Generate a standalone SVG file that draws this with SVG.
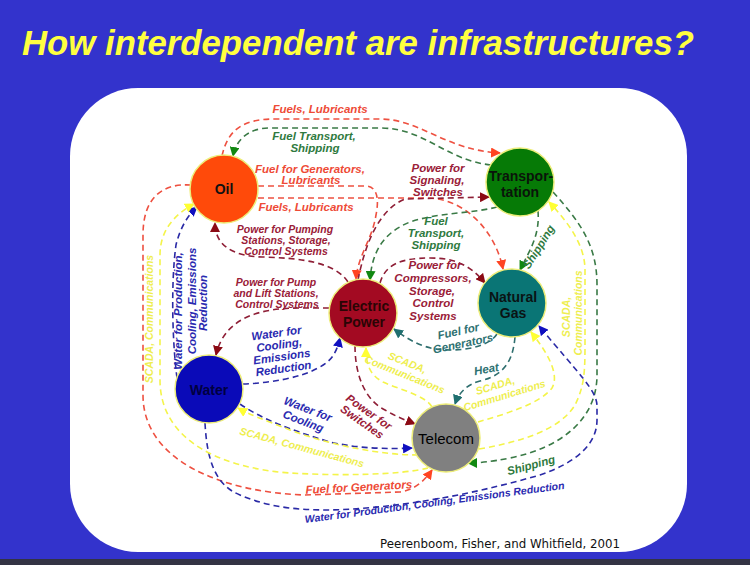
<svg xmlns="http://www.w3.org/2000/svg" width="750" height="565" viewBox="0 0 750 565">
<defs>
<style>
.e{fill:none;stroke-width:1.6;stroke-dasharray:6 4}
.r{stroke:#EE5040}.g{stroke:#3A7A46}.d{stroke:#8E1E36}.t{stroke:#2E6E6E}.b{stroke:#2A2AA6}.y{stroke:#F4F44A}
.l{font-family:"Liberation Sans",Arial,sans-serif;font-weight:bold;font-style:italic;font-size:11.5px;text-anchor:middle}
.lr{fill:#EE4A36}.lg{fill:#2F7A40}.ld{fill:#9A2038}.lt{fill:#2E7272}.lb{fill:#2A2AB0}.ly{fill:#EEEE50}
.s{font-size:10.5px}
.n{stroke:#EDED7A;stroke-width:1.5}
.nl{font-family:"Liberation Sans",Arial,sans-serif;font-weight:bold;font-size:14px;text-anchor:middle}
</style>
<marker id="mR" viewBox="0 0 10 10" refX="9" refY="5" markerWidth="10" markerHeight="10" markerUnits="userSpaceOnUse" orient="auto"><path d="M0,0 L10,5 L0,10 z" fill="#FF4422"/></marker>
<marker id="mG" viewBox="0 0 10 10" refX="9" refY="5" markerWidth="10" markerHeight="10" markerUnits="userSpaceOnUse" orient="auto"><path d="M0,0 L10,5 L0,10 z" fill="#118811"/></marker>
<marker id="mD" viewBox="0 0 10 10" refX="9" refY="5" markerWidth="10" markerHeight="10" markerUnits="userSpaceOnUse" orient="auto"><path d="M0,0 L10,5 L0,10 z" fill="#8B0A14"/></marker>
<marker id="mT" viewBox="0 0 10 10" refX="9" refY="5" markerWidth="10" markerHeight="10" markerUnits="userSpaceOnUse" orient="auto"><path d="M0,0 L10,5 L0,10 z" fill="#1F6F6F"/></marker>
<marker id="mB" viewBox="0 0 10 10" refX="9" refY="5" markerWidth="10" markerHeight="10" markerUnits="userSpaceOnUse" orient="auto"><path d="M0,0 L10,5 L0,10 z" fill="#1010C0"/></marker>
<marker id="mY" viewBox="0 0 10 10" refX="9" refY="5" markerWidth="10" markerHeight="10" markerUnits="userSpaceOnUse" orient="auto"><path d="M0,0 L10,5 L0,10 z" fill="#FFFF33"/></marker>
</defs>
<rect x="0" y="0" width="750" height="565" fill="#3333CC"/>
<rect x="0" y="559" width="750" height="6" fill="#333344"/>
<rect x="70" y="88" width="617" height="464" rx="68" ry="68" fill="#FFFFFF"/>
<text x="22" y="55" font-family="'Liberation Sans',Arial,sans-serif" font-weight="bold" font-style="italic" font-size="34.5" fill="#FFFF40" textLength="672" lengthAdjust="spacingAndGlyphs">How interdependent are infrastructures?</text>

<g id="connectors">
<path class="e r" d="M 222 156 C 228 128, 245 119, 275 119 L 380 119 C 420 119, 445 150, 500 153" marker-end="url(#mR)"/>
<path class="e r" d="M 258 186 L 365 186 C 378 186, 379 200, 376 215 C 372 240, 358 255, 356 279" marker-end="url(#mR)"/>
<path class="e r" d="M 258 198 L 430 198 C 465 200, 495 230, 503 269" marker-end="url(#mR)"/>
<path class="e r" d="M 191 185 C 160 183, 143 200, 143 235 L 143 395 C 143 460, 220 492, 305 495 L 400 492 C 415 490, 425 480, 432 470" marker-end="url(#mR)"/>
<path class="e g" d="M 491 165 C 445 160, 425 128, 380 128 L 270 128 C 248 128, 236 140, 233 156" marker-end="url(#mG)"/>
<path class="e g" d="M 497 207 C 470 214, 440 212, 410 222 C 385 232, 372 250, 370 280" marker-end="url(#mG)"/>
<path class="e g" d="M 538 211 C 540 235, 530 250, 520 270" marker-end="url(#mG)"/>
<path class="e g" d="M 553 192 C 580 222, 597 245, 597 285 L 597 375 C 597 420, 560 448, 510 458 C 490 462, 478 463, 468 463" marker-end="url(#mG)"/>
<path class="e d" d="M 348 282 C 335 262, 300 258, 262 257 C 232 256, 215 245, 215 223" marker-end="url(#mD)"/>
<path class="e d" d="M 329 308 L 300 308 C 265 308, 225 315, 216 355" marker-end="url(#mD)"/>
<path class="e d" d="M 358 280 C 365 245, 378 210, 405 199 L 489 197" marker-end="url(#mD)"/>
<path class="e d" d="M 380 283 C 385 265, 400 258, 430 258 C 455 258, 470 265, 485 283" marker-end="url(#mD)"/>
<path class="e d" d="M 355 346 C 355 375, 365 400, 385 410 C 395 416, 405 420, 415 424" marker-end="url(#mD)"/>
<path class="e t" d="M 497 334 C 490 345, 470 350, 450 350 C 430 350, 415 345, 394 329" marker-end="url(#mT)"/>
<path class="e t" d="M 515 337 C 513 360, 505 375, 480 381 C 465 385, 458 395, 455 404" marker-end="url(#mT)"/>
<path class="e b" d="M 243 384 C 270 383, 300 378, 318 368 C 330 362, 336 355, 340 338" marker-end="url(#mB)"/>
<path class="e b" d="M 240 404 C 260 418, 290 430, 330 442 C 360 449, 390 449, 412 448" marker-end="url(#mB)"/>
<path class="e b" d="M 177 378 C 172 340, 171 280, 176 245 C 180 228, 188 215, 197 207" marker-end="url(#mB)"/>
<path class="e b" d="M 205 423 C 207 460, 215 485, 240 495 C 270 508, 300 510, 330 510 C 400 508, 470 495, 540 475 C 575 463, 597 445, 597 420 L 597 405 C 596 390, 580 375, 539 326" marker-end="url(#mB)"/>
<path class="e y" d="M 428 468 C 400 475, 340 476, 290 473 C 220 468, 160 440, 160 380 L 160 255 C 160 230, 175 214, 194 204" marker-end="url(#mY)"/>
<path class="e y" d="M 418 455 C 380 455, 330 445, 290 430 C 265 420, 250 415, 238 408" marker-end="url(#mY)"/>
<path class="e y" d="M 432 407 C 425 395, 400 390, 383 382 C 370 375, 366 365, 366 348" marker-end="url(#mY)"/>
<path class="e y" d="M 478 422 C 505 414, 540 404, 552 388 C 560 374, 547 352, 531 332" marker-end="url(#mY)"/>
<path class="e y" d="M 479 449 C 520 442, 560 430, 575 405 C 585 385, 585 370, 585 340 L 585 270 C 585 245, 568 222, 549 202" marker-end="url(#mY)"/>

<text class="l lr" x="320" y="113">Fuels, Lubricants</text>
<text class="l lr"><tspan x="310" y="173">Fuel for Generators,</tspan><tspan x="311" y="184">Lubricants</tspan></text>
<text class="l lr" x="306" y="211">Fuels, Lubricants</text>
<text class="l lr" transform="translate(359 491) rotate(-3)">Fuel for Generators</text>

<text class="l lg"><tspan x="314" y="140">Fuel Transport,</tspan><tspan x="315" y="152">Shipping</tspan></text>
<text class="l lg"><tspan x="436" y="225">Fuel</tspan><tspan x="436" y="237">Transport,</tspan><tspan x="436" y="249">Shipping</tspan></text>
<text class="l lg" transform="translate(542 249) rotate(-58)">Shipping</text>
<text class="l lg" transform="translate(532 469) rotate(-15)">Shipping</text>

<text class="l ld s"><tspan x="285" y="233">Power for Pumping</tspan><tspan x="286" y="244">Stations, Storage,</tspan><tspan x="286" y="255">Control Systems</tspan></text>
<text class="l ld s"><tspan x="276" y="286">Power for Pump</tspan><tspan x="276" y="297">and Lift Stations,</tspan><tspan x="277" y="308">Control Systems</tspan></text>
<text class="l ld"><tspan x="438" y="172">Power for</tspan><tspan x="437" y="184">Signaling,</tspan><tspan x="438" y="196">Switches</tspan></text>
<text class="l ld"><tspan x="435" y="269">Power for</tspan><tspan x="433" y="282">Compressors,</tspan><tspan x="432" y="295">Storage,</tspan><tspan x="433" y="307">Control</tspan><tspan x="433" y="320">Systems</tspan></text>
<text class="l ld" transform="translate(369 412) rotate(35)"><tspan x="0" y="4">Power for</tspan><tspan x="0" y="16">Switches</tspan></text>

<text class="l lt" transform="translate(459 335) rotate(-12)"><tspan x="0" y="0">Fuel for</tspan><tspan x="2" y="13">Generators</tspan></text>
<text class="l lt" transform="translate(487 373) rotate(-10)">Heat</text>

<text class="l lb" transform="translate(277 337) rotate(-8)"><tspan x="0" y="0">Water for</tspan><tspan x="1" y="12">Cooling,</tspan><tspan x="2" y="24">Emissions</tspan><tspan x="2" y="36">Reduction</tspan></text>
<text class="l lb" transform="translate(308 409) rotate(21)"><tspan x="0" y="4">Water for</tspan><tspan x="0" y="17">Cooling</tspan></text>
<text class="l lb" transform="translate(182 311) rotate(-90)">Water for Production,</text>
<text class="l lb" transform="translate(196 301) rotate(-90)">Cooling, Emissions</text>
<text class="l lb" transform="translate(207 303) rotate(-90)">Reduction</text>
<text class="l lb s" transform="translate(435 506) rotate(-7.5)">Water for Production, Cooling,  Emissions Reduction</text>

<text class="l ly s" transform="translate(153 319) rotate(-90)">SCADA, Communications</text>
<text class="l ly s" transform="translate(302 447) rotate(15)"><tspan x="0" y="4">SCADA, Communications</tspan></text>
<text class="l ly s" transform="translate(406 366) rotate(22)"><tspan x="0" y="0">SCADA,</tspan><tspan x="2" y="12">Communications</tspan></text>
<text class="l ly s" transform="translate(500 388) rotate(-17)"><tspan x="-4" y="0">SCADA,</tspan><tspan x="2" y="12">Communications</tspan></text>
<text class="l ly s" transform="translate(570 317) rotate(-90)">SCADA,</text>
<text class="l ly s" transform="translate(582 313) rotate(-90)">Communications</text>
</g>

<g id="oil"><circle class="n" cx="224" cy="189" r="34" fill="#FF4A0A"/><text class="nl" x="224" y="194" fill="#111">Oil</text></g>
<g id="transportation"><circle class="n" cx="520" cy="182" r="34" fill="#067A06"/><text class="nl" fill="#0A140A"><tspan x="521" y="181">Transpor-</tspan><tspan x="520" y="197">tation</tspan></text></g>
<g id="natural-gas"><circle class="n" cx="512" cy="303" r="34" fill="#0A7575"/><text class="nl" fill="#0A1414"><tspan x="513" y="302">Natural</tspan><tspan x="513" y="318">Gas</tspan></text></g>
<g id="electric-power"><circle class="n" cx="363" cy="313" r="34" fill="#A30A22"/><text class="nl" fill="#2A0505"><tspan x="364" y="311">Electric</tspan><tspan x="364" y="327">Power</tspan></text></g>
<g id="water"><circle class="n" cx="209" cy="389" r="34" fill="#0A0AB8"/><text class="nl" x="209" y="395" fill="#000040">Water</text></g>
<g id="telecom"><circle class="n" cx="446" cy="438" r="34" fill="#808080"/><text x="446" y="444" font-family="'Liberation Sans',Arial,sans-serif" font-size="15" text-anchor="middle" fill="#000">Telecom</text></g>

<text x="380" y="548" font-family="'DejaVu Sans',sans-serif" font-size="13" fill="#111" textLength="240" lengthAdjust="spacingAndGlyphs">Peerenboom, Fisher, and Whitfield, 2001</text>
</svg>
